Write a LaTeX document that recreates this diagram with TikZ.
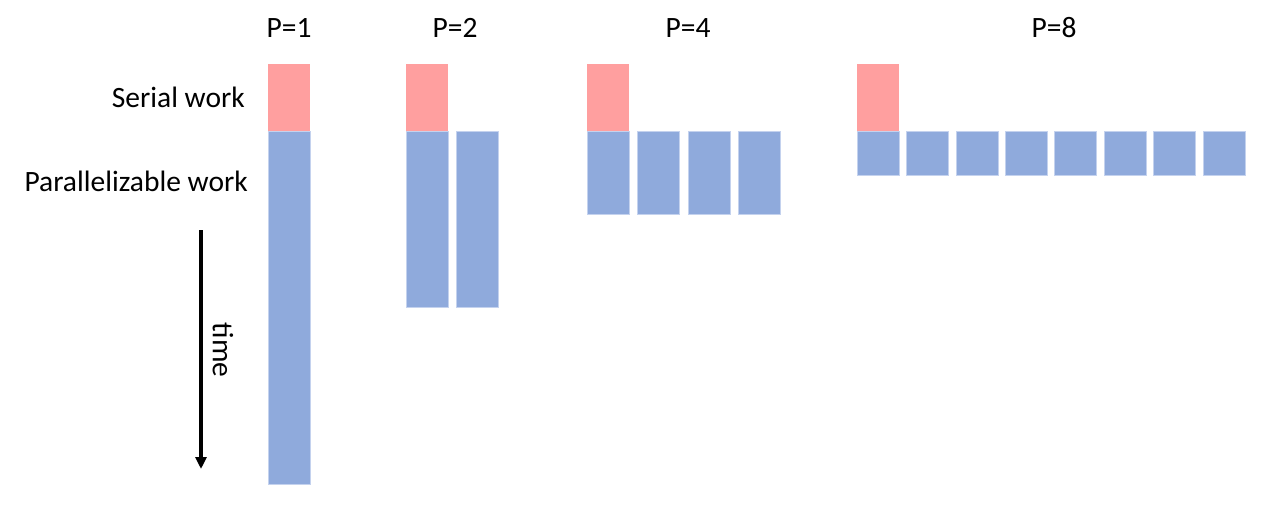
\documentclass[tikz,border=0pt]{standalone}
\usepackage{fontspec}
\setmainfont{Carlito}
\usetikzlibrary{arrows.meta, positioning}
\definecolor{colSerial}{RGB}{255,159,159}
\definecolor{colPar}{RGB}{143,170,220}
\definecolor{colParEdge}{RGB}{196,210,238}
\tikzset{
    serialblock/.style={rectangle, fill=colSerial, minimum width=42pt,
        minimum height=67pt, inner sep=0pt, outer sep=0pt, anchor=north west},
    parblock/.style={rectangle, fill=colPar, draw=colParEdge, line width=0.6pt,
        minimum width=42pt, inner sep=0pt, outer sep=0pt, anchor=north west},
    heading/.style={font=\fontsize{29.5}{34}\selectfont, inner sep=0pt},
    arrow/.style={-{Triangle[length=12pt,width=11pt]}, line width=3.2pt}
}

\begin{document}
\begin{tikzpicture}[x=1pt, y=-1pt]
    \useasboundingbox (0,0) rectangle (1283,509);

    % serial block on top, parallel columns below it
    \foreach \p/\x/\d/\h in {1/268/0/353, 2/406/50.5/176, 4/587/50.4/83, 8/857/49.4/44.5} {
        \node[serialblock] (ser\p) at (\x,64) {};
        \foreach \i in {1,...,\p} {
            \node[parblock, minimum height=\h pt] (par\p-\i) at ({\x+(\i-1)*\d},131) {};
        }
    }

    \node[heading] (head1) at (289,28) {P=1};
    \node[heading] (head2) at (455,28) {P=2};
    \node[heading] (head4) at (688,28) {P=4};
    \node[heading] (head8) at (1054,28) {P=8};

    \node[heading, anchor=base east] (serlabel) at (245,107) {Serial work};
    \node[heading, anchor=base east] (parlabel) at (248,191) {Parallelizable work};

    \coordinate (timetop) at (201,230);
    \coordinate (timebot) at (201,469);
    \draw[arrow] (timetop) -- (timebot);
    \node[heading, rotate=-90] (timelabel) at (223,350) {time};

\end{tikzpicture}
\end{document}
